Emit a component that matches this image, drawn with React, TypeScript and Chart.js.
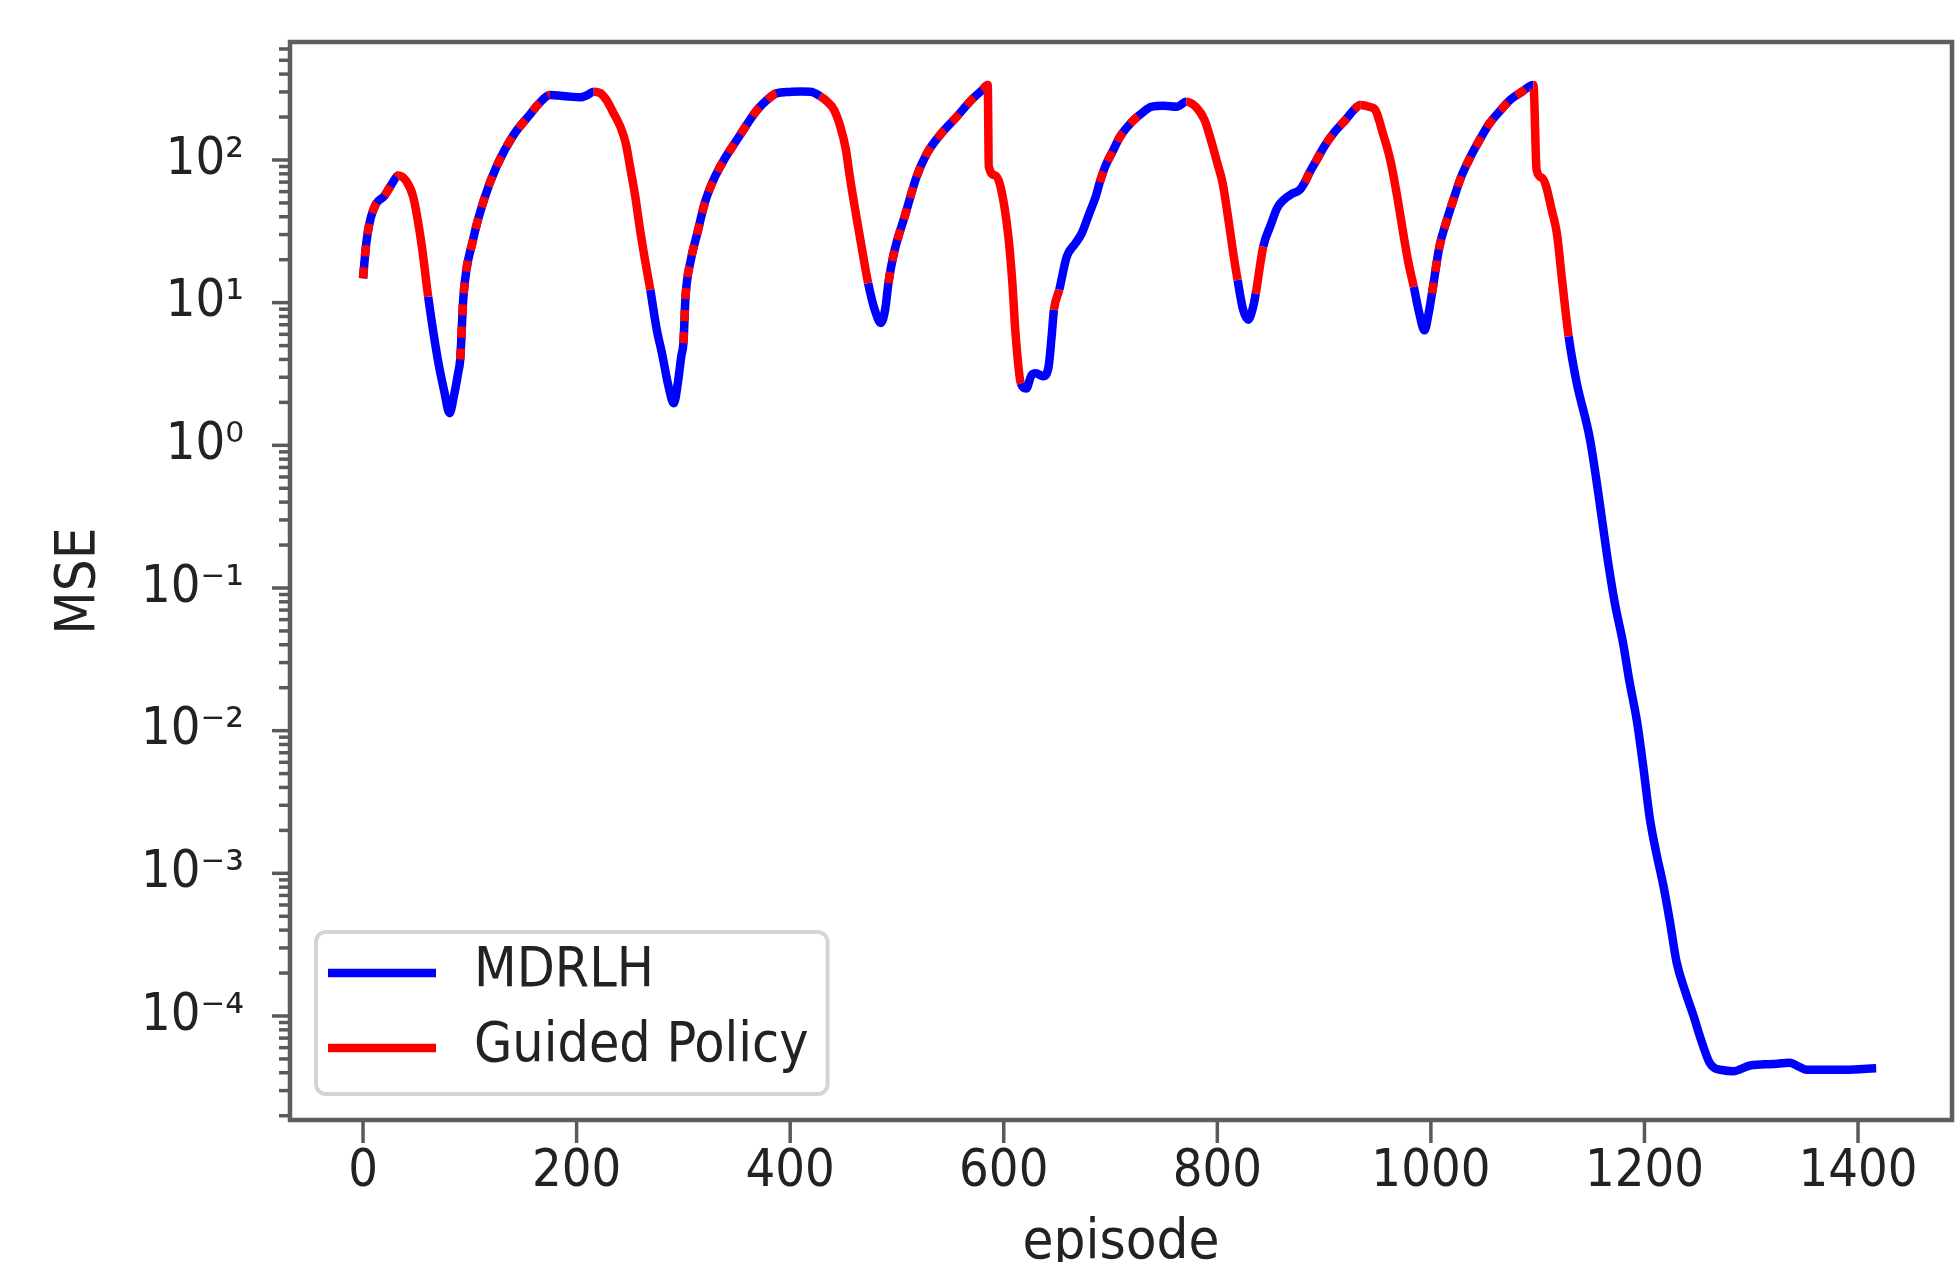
import React, { useEffect, useRef } from 'react';
import { Chart, registerables } from 'chart.js';

Chart.register(...registerables);

// ---------------- data ----------------
const episodes = [
  0, 3, 6, 12, 20, 27, 33, 40, 47, 55,
  61, 70, 76, 81, 85, 89, 91, 94, 103, 113,
  125, 141, 156, 165, 175, 185, 194, 203, 210, 216,
  222, 228, 235, 241, 246, 250, 255, 259, 264, 269,
  275, 280, 286, 291, 295, 298, 300, 302, 307, 313,
  320, 328, 338, 350, 360, 369, 378, 387, 400, 410,
  419, 428, 435, 441, 447, 452, 456, 462, 468, 473,
  479, 485, 489, 492, 497, 508, 518, 528, 542, 556,
  570, 580, 585, 586, 592, 597, 604, 608, 611, 616,
  621, 626, 630, 637, 642, 645, 647, 652, 659, 667,
  673, 680, 686, 690, 695, 702, 709, 720, 730, 738,
  750, 762, 771, 780, 788, 795, 800, 805, 810, 815,
  819, 824, 829, 833, 836, 843, 850, 856, 862, 870,
  877, 882, 886, 893, 900, 910, 920, 928, 934, 943,
  948, 955, 962, 968, 975, 979, 984, 989, 994, 998,
  1001, 1008, 1015, 1021, 1028, 1037, 1046, 1055, 1065, 1074,
  1085, 1096, 1099, 1104, 1108, 1113, 1118, 1123, 1129, 1136,
  1149, 1157, 1165, 1172, 1180, 1186, 1193, 1199, 1205, 1211,
  1218, 1224, 1230, 1238, 1246, 1253, 1261, 1266, 1271, 1283,
  1299, 1320, 1336, 1345, 1352, 1380, 1417,
];

const mse = [
  14.8, 26, 36, 49, 56, 68, 78, 72, 55, 25,
  11, 4.0, 2.4, 1.68, 2.2, 3.2, 4.0, 11, 27.5, 52,
  90, 150, 207, 250, 285, 282, 278, 275, 285, 301,
  295, 263, 210, 171, 131, 90, 55, 34, 20, 12.3,
  6.5, 4.4, 2.6, 1.97, 2.8, 4.2, 5.2, 11, 20, 30.6,
  50, 72, 100, 138, 180, 224, 262, 293, 300, 302,
  301, 280, 255, 225, 171, 120, 75, 40, 22, 13.7,
  9, 7.2, 9, 13.7, 22, 42, 75, 111, 155, 201,
  265, 310, 336, 90, 78, 65, 30.6, 14, 6.1, 2.72,
  2.5, 3.1, 3.2, 3.05, 3.56, 6, 8.9, 12.3, 21, 26,
  30.6, 42, 55, 70, 90, 115, 146, 185, 215, 236,
  240, 236, 256, 235, 191, 130, 95, 68.7, 40, 22,
  14.4, 9, 7.6, 9, 11.6, 24.7, 35, 46, 52.5, 58,
  61.6, 70, 80.7, 100, 124, 158, 191, 225, 243, 235,
  224, 154, 100, 58, 28, 19, 12.9, 8.5, 6.4, 8.5,
  11.6, 24.7, 38, 52.5, 75, 105, 140, 181, 222, 263,
  300, 336, 85, 75, 65, 45, 30.6, 14, 5.8, 2.87,
  1.1, 0.45, 0.169, 0.08, 0.041, 0.022, 0.0116, 0.0055, 0.00243, 0.0014,
  0.0008, 0.00045, 0.00024, 0.00015, 0.0001, 6.8e-5, 4.7e-5, 4.3e-5, 4.2e-5, 4.1e-5,
  4.5e-5, 4.6e-5, 4.7e-5, 4.4e-5, 4.2e-5, 4.2e-5, 4.3e-5,
];

// policy used on the segment starting at each point: 0 = MDRLH, 1 = Guided Policy, 2 = alternating
const policy = [
  2, 2, 2, 2, 2, 2, 1, 1, 1, 1,
  0, 0, 0, 0, 0, 0, 2, 2, 2, 2,
  2, 2, 2, 2, 0, 0, 0, 0, 0, 1,
  1, 1, 1, 1, 1, 1, 1, 1, 1, 0,
  0, 0, 0, 0, 0, 0, 2, 2, 2, 2,
  2, 2, 2, 2, 2, 2, 2, 0, 0, 0,
  0, 1, 1, 1, 1, 1, 1, 1, 1, 0,
  0, 0, 0, 2, 2, 2, 2, 2, 2, 2,
  2, 2, 1, 1, 1, 1, 1, 1, 1, 0,
  0, 0, 0, 0, 0, 0, 1, 0, 0, 0,
  0, 0, 0, 2, 2, 2, 2, 2, 0, 0,
  0, 0, 1, 1, 1, 1, 1, 1, 1, 1,
  0, 0, 0, 0, 1, 0, 0, 0, 0, 0,
  0, 2, 2, 2, 2, 2, 2, 2, 1, 1,
  1, 1, 1, 1, 1, 1, 0, 0, 0, 0,
  2, 2, 2, 2, 2, 2, 2, 2, 2, 2,
  2, 1, 1, 1, 1, 1, 1, 1, 0, 0,
  0, 0, 0, 0, 0, 0, 0, 0, 0, 0,
  0, 0, 0, 0, 0, 0, 0, 0, 0, 0,
  0, 0, 0, 0, 0, 0, 0,
];

const seriesLabels = ['MDRLH', 'Guided Policy'];
const seriesColors = ['#0000ff', '#ff0000'];
const xTickValues = [0, 200, 400, 600, 800, 1000, 1200, 1400];
const yMajorExponents = [-4, -3, -2, -1, 0, 1, 2];
const yMinorMultipliers = [2, 3, 4, 5, 6, 7, 8, 9];
const xTitle = 'episode';
const yTitle = 'MSE';

// ---------------- style ----------------
const W = 1960;
const H = 1300;
const FONT_FAMILY = "'DejaVu Sans Condensed', 'DejaVu Sans', sans-serif";
const TICK_FONT_SIZE = 52;
const TITLE_FONT_SIZE = 56;
const LEGEND_FONT_SIZE = 55;
const TEXT_COLOR = '#222222';
const SPINE_COLOR = '#5e5e5e';
const TICK_COLOR = '#5a5a5a';
const LINE_WIDTH = 8.5;

const SUP: Record<string, string> = {
  '0': '\u2070', '1': '\u00b9', '2': '\u00b2', '3': '\u00b3', '4': '\u2074',
  '5': '\u2075', '6': '\u2076', '7': '\u2077', '8': '\u2078', '9': '\u2079', '-': '\u207b',
};
const sup = (n: number) => String(n).split('').map((c) => SUP[c] || c).join('');

const isDecade = (v: number) => {
  const l = Math.log10(v);
  return Math.abs(l - Math.round(l)) < 1e-9;
};

const mplPlugin = {
  id: 'mplAxes',
  afterDraw(chart: any) {
    const { ctx, chartArea: a } = chart;
    const xs = chart.scales.x;
    const ys = chart.scales.y;
    ctx.save();
    // tick marks
    ctx.strokeStyle = TICK_COLOR;
    ctx.lineWidth = 3.5;
    ctx.lineCap = 'butt';
    ys.ticks.forEach((t: any) => {
      const py = ys.getPixelForValue(t.value);
      const len = isDecade(t.value) ? 18 : 11;
      ctx.beginPath();
      ctx.moveTo(a.left - len, py);
      ctx.lineTo(a.left, py);
      ctx.stroke();
    });
    xs.ticks.forEach((t: any) => {
      const px = xs.getPixelForValue(t.value);
      ctx.beginPath();
      ctx.moveTo(px, a.bottom);
      ctx.lineTo(px, a.bottom + 23);
      ctx.stroke();
    });
    // spines
    ctx.strokeStyle = SPINE_COLOR;
    ctx.lineWidth = 4.5;
    ctx.strokeRect(a.left, a.top, a.right - a.left, a.bottom - a.top);

    // legend
    ctx.font = `${LEGEND_FONT_SIZE}px ${FONT_FAMILY}`;
    const labels = chart.data.datasets.map((d: any) => d.label);
    const textW = Math.max(...labels.map((l: string) => ctx.measureText(l).width));
    const padL = 12, handleW = 108, gap = 38, padR = 19;
    const bw = padL + handleW + gap + textW + padR;
    const bh = 162;
    const bx = a.left + 26;
    const by = a.bottom - 26 - bh;
    ctx.beginPath();
    if (ctx.roundRect) ctx.roundRect(bx, by, bw, bh, 10);
    else ctx.rect(bx, by, bw, bh);
    ctx.fillStyle = 'rgba(255,255,255,0.8)';
    ctx.fill();
    ctx.strokeStyle = '#d4d4d4';
    ctx.lineWidth = 4;
    ctx.stroke();
    chart.data.datasets.forEach((d: any, i: number) => {
      const ly = by + 41 + i * 75;
      ctx.strokeStyle = d.borderColor;
      ctx.lineWidth = LINE_WIDTH;
      ctx.beginPath();
      ctx.moveTo(bx + padL, ly);
      ctx.lineTo(bx + padL + handleW, ly);
      ctx.stroke();
      ctx.fillStyle = TEXT_COLOR;
      ctx.textAlign = 'left';
      ctx.textBaseline = 'middle';
      ctx.fillText(d.label, bx + padL + handleW + gap, ly - 1);
    });
    ctx.restore();
  },
};

export default function App() {
  const ref = useRef<HTMLCanvasElement>(null);

  useEffect(() => {
    document.body.style.margin = '0';
    document.body.style.overflow = 'hidden';
    document.documentElement.style.overflow = 'hidden';
    const canvas = ref.current;
    if (!canvas) return;

    const points = episodes.map((x, i) => ({ x, y: mse[i] }));
    const tickFont = { family: FONT_FAMILY, size: TICK_FONT_SIZE };
    const titleFont = { family: FONT_FAMILY, size: TITLE_FONT_SIZE };
    const transparent = 'rgba(0,0,0,0)';

    const chart = new Chart(canvas, {
      type: 'line',
      data: {
        datasets: [
          {
            label: seriesLabels[0],
            data: points,
            borderColor: seriesColors[0],
            borderWidth: LINE_WIDTH,
            pointRadius: 0,
            cubicInterpolationMode: 'monotone',
            borderJoinStyle: 'round',
            order: 2,
            segment: {
              borderColor: (c: any) => (policy[c.p0DataIndex] === 1 ? transparent : seriesColors[0]),
            },
          },
          {
            label: seriesLabels[1],
            data: points,
            borderColor: seriesColors[1],
            borderWidth: LINE_WIDTH,
            pointRadius: 0,
            cubicInterpolationMode: 'monotone',
            borderJoinStyle: 'round',
            order: 1,
            segment: {
              borderColor: (c: any) => (policy[c.p0DataIndex] === 0 ? transparent : seriesColors[1]),
              borderDash: (c: any) => (policy[c.p0DataIndex] === 2 ? [11, 11] : undefined),
            },
          },
        ],
      } as any,
      options: {
        animation: false,
        responsive: false,
        events: [],
        layout: { padding: { left: 0, top: 42, right: 8, bottom: 0 } },
        plugins: { legend: { display: false }, tooltip: { enabled: false } },
        scales: {
          x: {
            type: 'linear',
            min: -68.4,
            max: 1488,
            afterBuildTicks: (s: any) => {
              s.ticks = xTickValues.map((v) => ({ value: v }));
            },
            afterFit: (s: any) => {
              s.height = H - 1120;
              s.paddingLeft = 0;
              s.paddingRight = 0;
            },
            ticks: {
              autoSkip: false,
              maxRotation: 0,
              padding: 21,
              color: TEXT_COLOR,
              font: tickFont,
              callback: (v: any) => String(v),
            },
            grid: { display: false, drawTicks: false },
            border: { display: false },
            title: { display: true, text: xTitle, color: TEXT_COLOR, font: titleFont, padding: { top: 0, bottom: 23 } },
          },
          y: {
            type: 'logarithmic',
            min: Math.pow(10, -4.729),
            max: Math.pow(10, 2.827),
            afterBuildTicks: (s: any) => {
              const ticks: any[] = [];
              for (let e = yMajorExponents[0] - 1; e <= yMajorExponents[yMajorExponents.length - 1]; e++) {
                [1, ...yMinorMultipliers].forEach((m) => {
                  const v = m * Math.pow(10, e);
                  if (v >= s.min && v <= s.max) ticks.push({ value: v, major: m === 1 });
                });
              }
              s.ticks = ticks;
            },
            afterFit: (s: any) => {
              s.width = 290;
              s.paddingTop = 0;
              s.paddingBottom = 0;
            },
            ticks: {
              autoSkip: false,
              padding: 46,
              color: TEXT_COLOR,
              font: tickFont,
              callback: (v: any) => {
                const n = Number(v);
                if (!isDecade(n)) return '';
                const e = Math.round(Math.log10(n));
                return yMajorExponents.includes(e) ? '10' + sup(e) : '';
              },
            },
            grid: { display: false, drawTicks: false },
            border: { display: false },
            title: { display: true, text: yTitle, color: TEXT_COLOR, font: titleFont, padding: { top: 46, bottom: 0 } },
          },
        },
      } as any,
      plugins: [mplPlugin],
    });

    return () => chart.destroy();
  }, []);

  return (
    <div style={{ position: 'fixed', left: 0, top: 0, width: W, height: H, background: '#ffffff' }}>
      <canvas ref={ref} width={W} height={H} style={{ display: 'block', width: W, height: H }} />
    </div>
  );
}
